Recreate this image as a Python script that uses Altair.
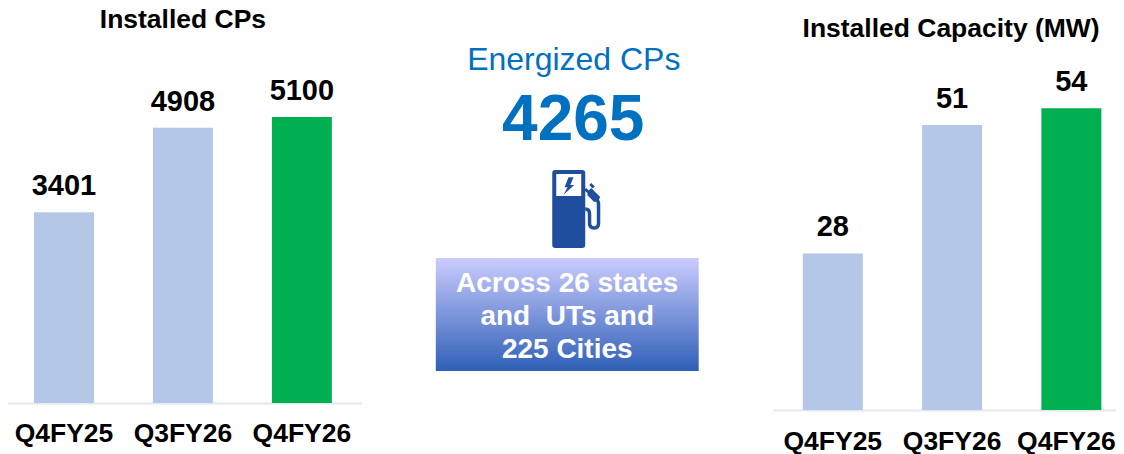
import altair as alt
import pandas as pd

quarters = ["Q4FY25", "Q3FY26", "Q4FY26"]
installed_cps = [3401, 4908, 5100]
installed_mw = [28, 51, 54]
bar_colors = ["#B4C7E7", "#B4C7E7", "#00B050"]
FONT = "Liberation Sans"

PUMP = ("M-14 -39 L13 -39 Q16 -39 16 -36 L16 36 Q16 39 13 39 L-14 39 Q-17 39 -17 36 L-17 -36 Q-17 -39 -14 -39 Z "
        "M-13 -35 L-13 -13 L12 -13 L12 -35 Z "
        "M-0.7 -31.7 L4.3 -31.7 L1 -24 L5 -24 L-5.7 -14.3 L-1.7 -21.7 L-4.7 -21.7 Z "
        "M22 -21 L31 -12 L29 -8 L25 -7 L18 -14 L19 -18 Z "
        "M17 -21 L20.5 -17.5 L18.5 -15.5 L15 -19 Z "
        "M22 -26 L25.5 -22.5 L23.5 -20.5 L20 -24 Z")
HOSE = "M16 0 Q20.3 0 20.3 5 L20.3 14 Q20.3 19 25 19 Q29.3 19 29.3 14 L29.3 -5 Q29.3 -8 26 -11"


def bars(values, vmax, title, title_x, title_y, w, h, lab_pad, last_shift):
    df = pd.DataFrame({"q": quarters, "v": values, "c": bar_colors})
    axis_kw = dict(domainColor="#E4E8F0", domainWidth=2, ticks=False, labelAngle=0,
                   labelFont=FONT, labelFontWeight="bold", labelFontSize=26.5,
                   labelColor="#000000", labelPadding=lab_pad, grid=False, labelOverlap=False,
                   labelBound=False, labelFlush=False)
    if last_shift:
        axis_kw["labelOffset"] = {"condition": {"test": "datum.value === 'Q4FY26'", "value": last_shift}, "value": 0}
    x = alt.X("q:N", sort=quarters, title=None,
              scale=alt.Scale(paddingInner=59 / 119, paddingOuter=29.5 / 119),
              axis=alt.Axis(**axis_kw))
    y = alt.Y("v:Q", scale=alt.Scale(domain=[0, vmax], nice=False), axis=None)
    b = alt.Chart(df).mark_bar(size=60).encode(x=x, y=y, color=alt.Color("c:N", scale=None))
    t = alt.Chart(df).mark_text(font=FONT, fontWeight="bold", fontSize=29, dy=-26, color="#000000").encode(
        x=alt.X("q:N", sort=quarters), y="v:Q", text="v:Q")
    ttl = alt.Chart(pd.DataFrame({"t": [title]})).mark_text(
        font=FONT, fontWeight="bold", fontSize=26.5, color="#000000").encode(
        x=alt.value(title_x), y=alt.value(title_y), text="t:N")
    return alt.layer(b, t, ttl).properties(width=w, height=h)


left = bars(installed_cps, 395 / 0.0561, "Installed CPs", 178.5, 12, 357, 395, 18, 0)
right = bars(installed_mw, 402 / 5.59, "Installed Capacity (MW)", 178, 21, 358, 402, 19, -5)


def label(text, x, y, size, weight, color):
    return alt.Chart(pd.DataFrame({"t": [text]})).mark_text(
        font=FONT, fontSize=size, fontWeight=weight, color=color).encode(
        x=alt.value(x), y=alt.value(y), text="t:N")


one = pd.DataFrame({"a": [0]})
box = alt.Chart(one).mark_rect(
    color=alt.Gradient(gradient="linear", x1=0, y1=0, x2=0, y2=1,
                       stops=[alt.GradientStop(offset=0, color="#CBCCFF"),
                              alt.GradientStop(offset=1, color="#2F5FB7")])
).encode(x=alt.value(74.5), x2=alt.value(337.5), y=alt.value(250), y2=alt.value(363))

pump = alt.Chart(one).mark_point(shape=PUMP, size=4, filled=True, color="#1F4E9E", opacity=1).encode(
    x=alt.value(208), y=alt.value(201))
hose = alt.Chart(one).mark_point(shape=HOSE, size=4, filled=False, stroke="#1F4E9E", strokeWidth=3.5, opacity=1).encode(
    x=alt.value(208), y=alt.value(201))

center = alt.layer(
    label("Energized CPs", 212.5, 52, 32, "normal", "#0070C0"),
    label("4265", 212, 113, 64, "bold", "#0070C0"),
    hose,
    pump,
    box,
    label("Across 26 states", 206, 276, 28, "bold", "#FFFFFF"),
    label("and\u00a0 UTs and", 206, 309, 28, "bold", "#FFFFFF"),
    label("225 Cities", 206, 342, 28, "bold", "#FFFFFF"),
).properties(width=411.5, height=395)

chart = alt.hconcat(left, center, right, spacing=0).resolve_scale(
    x="independent", y="independent", color="independent"
).configure_view(stroke=None).properties(padding={"left": -3.5, "top": -1, "right": -15, "bottom": 12})
chart.save("out.html", embed_options={"renderer": "svg", "actions": False})
